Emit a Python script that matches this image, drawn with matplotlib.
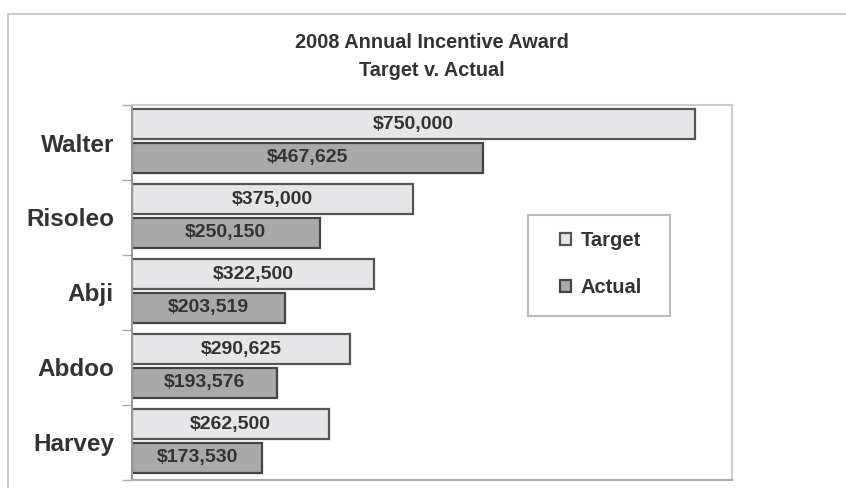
import numpy as np
import matplotlib
matplotlib.use("Agg")
import matplotlib.pyplot as plt
from matplotlib.lines import Line2D
from matplotlib.patches import Rectangle

plt.rcParams['font.family'] = ['Liberation Sans', 'DejaVu Sans']

names = ["Walter", "Risoleo", "Abji", "Abdoo", "Harvey"]
target = [750000, 375000, 322500, 290625, 262500]
actual = [467625, 250150, 203519, 193576, 173530]
title_lines = ["2008 Annual Incentive Award", "Target v. Actual"]

fig = plt.figure(figsize=(8.46, 4.88), dpi=100)
ax = fig.add_axes([132 / 846, 1 - 480 / 488, 600 / 846, 375 / 488])

y = np.arange(len(names))
h = 0.4
b1 = ax.barh(y - 0.245, target, height=h, color="#e6e6e8", edgecolor="#555555",
             linewidth=1.6, label="Target")
b2 = ax.barh(y + 0.2, actual, height=h, color="#a9a9a9", edgecolor="#444444",
             linewidth=1.6, label="Actual")

for bars, vals in ((b1, target), (b2, actual)):
    for bar, v in zip(bars, vals):
        ax.text(v / 2, bar.get_y() + bar.get_height() / 2, f"${v:,.0f}",
                ha="center", va="center", fontsize=14, fontweight="bold",
                color="#333333")

ax.set_xlim(0, 800000)
ax.set_ylim(len(names) - 0.5, -0.5)
ax.set_xticks([])
ax.set_yticks(y)
ax.set_yticklabels(names, fontsize=17.5, fontweight="bold", color="#333333")
ax.tick_params(axis="y", which="major", length=0, pad=13)
ax.set_yticks(np.arange(-0.5, len(names)), minor=True)
ax.tick_params(axis="y", which="minor", length=7, width=1, color="#aaaaaa")

for side in ("top", "right"):
    ax.spines[side].set_color("#cccccc")
    ax.spines[side].set_linewidth(1.5)
ax.spines["left"].set_color("#999999")
ax.spines["left"].set_linewidth(1.5)
ax.spines["bottom"].set_color("#aaaaaa")
ax.spines["bottom"].set_linewidth(1.5)

# titles
fig.text(0.511, 1 - 42 / 488, title_lines[0], ha="center", va="center",
         fontsize=14.3, fontweight="bold", color="#333333")
fig.text(0.511, 1 - 70 / 488, title_lines[1], ha="center", va="center",
         fontsize=14.3, fontweight="bold", color="#333333")

# outer frame
fig.add_artist(Line2D([8 / 846, 8 / 846], [0, 1 - 14 / 488], color="#cccccc", lw=1.5))
fig.add_artist(Line2D([8 / 846, 1], [1 - 14 / 488, 1 - 14 / 488], color="#cccccc", lw=1.5))

# legend: frame drawn separately
fig.add_artist(Rectangle((528 / 846, 1 - 316 / 488), 142 / 846, 101 / 488,
                         transform=fig.transFigure, facecolor="white",
                         edgecolor="#bbbbbb", linewidth=1.5))
leg = fig.legend(handles=[b1, b2], loc="center", bbox_to_anchor=(601 / 846, 1 - 264 / 488),
                 prop={"weight": "bold", "size": 14.5},
                 handlelength=0.55, handleheight=0.55, handletextpad=0.5,
                 labelspacing=1.4, borderpad=0.5, frameon=False)
for t in leg.get_texts():
    t.set_color("#333333")

fig.savefig("out.png", dpi=100)
